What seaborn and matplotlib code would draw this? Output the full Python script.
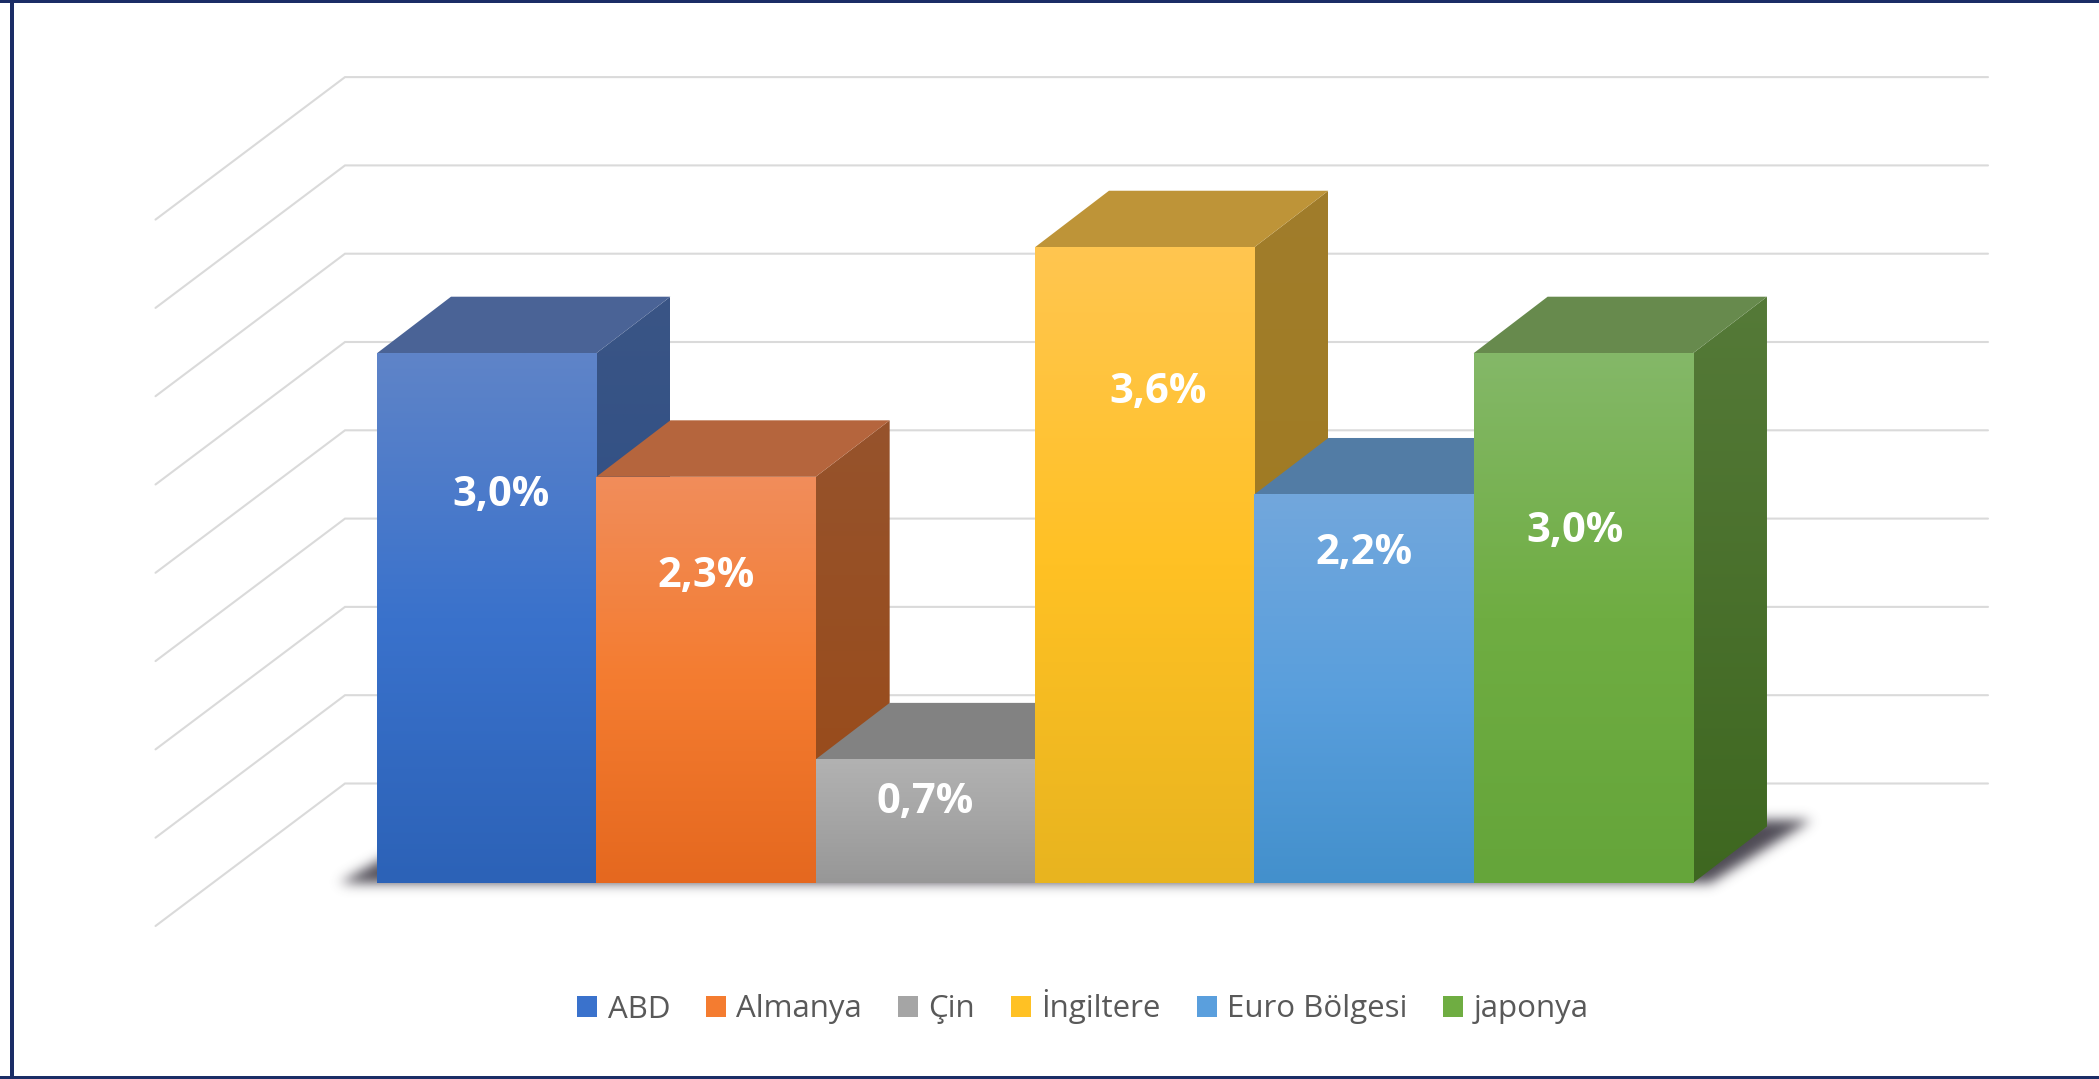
import numpy as np
import pandas as pd
import matplotlib
matplotlib.use("Agg")
import matplotlib.pyplot as plt
from matplotlib.colors import LinearSegmentedColormap, to_rgb
from matplotlib.patches import Polygon, Rectangle
import seaborn as sns

# ---- data ----
countries = ["ABD", "Almanya", "Çin", "İngiltere", "Euro Bölgesi", "japonya"]
growth = [3.0, 2.3, 0.7, 3.6, 2.2, 3.0]
value_labels = ["3,0%", "2,3%", "0,7%", "3,6%", "2,2%", "3,0%"]
grid_levels = [0, 0.5, 1, 1.5, 2, 2.5, 3, 3.5, 4]

# ---- styles ----
front_colors = [
    ["#5F84C8", "#3A72CC", "#2C62B7"],
    ["#F18D5B", "#F47C30", "#E5681F"],
    ["#B2B2B2", "#A5A5A5", "#979797"],
    ["#FFC650", "#FFC124", "#E8B41F"],
    ["#72A7DC", "#5A9FDD", "#4390CC"],
    ["#84B868", "#6FAD42", "#65A53A"],
]
top_colors = ["#4A6396", "#B5653D", "#828282", "#BE9438", "#527CA5", "#678A4D"]
side_colors = [
    ["#3A5585", "#264A85"],
    ["#96532C", "#9A4A17"],
    ["#6E6E6E", "#666666"],
    ["#A17D2B", "#A07A1C"],
    ["#40709A", "#2F6590"],
    ["#557A38", "#3E6720"],
]
legend_colors = ["#3A72CC", "#F47C30", "#A5A5A5", "#FFC124", "#5A9FDD", "#6FAD42"]
label_heights = [2.195, 1.735, 0.457, 2.777, 1.865, 1.99]
label_shifts = [0.067, 0.0, 0.0, 0.06, 0.0, -0.04]

# layout, in data units of the single full-figure axes
W, H = 2099, 1079
bar_px, unit_px = 219.33, 176.6
bar_left_px, base_px = 377, 883
depth_x, depth_y = 74 / bar_px, 56.5 / unit_px
wall_x = (345 - bar_left_px) / bar_px - 0.5
wall_right = (1988 - bar_left_px) / bar_px - 0.5
wall_y = (base_px - 783.5) / unit_px
front_x = (155.5 - bar_left_px) / bar_px - 0.5
front_y = (base_px - 926) / unit_px

sns.set_theme(style="white")
plt.rcParams["font.family"] = ["Open Sans", "DejaVu Sans"]

fig = plt.figure(figsize=(W / 100, H / 100), dpi=100, facecolor="white")
ax = fig.add_axes([0, 0, 1, 1])

df = pd.DataFrame({"country": countries, "growth": growth})
sns.barplot(data=df, x="country", y="growth", hue="country", order=countries,
            hue_order=countries, palette=legend_colors, dodge=False, width=1.0,
            linewidth=0, saturation=1, legend=True, ax=ax)

xlim = (-0.5 - bar_left_px / bar_px, -0.5 + (W - bar_left_px) / bar_px)
ylim = ((base_px - H) / unit_px, base_px / unit_px)

# gridlines on wall and side wall
for lv in grid_levels:
    ax.plot([front_x, wall_x, wall_right],
            [lv + front_y, lv + wall_y, lv + wall_y],
            color="#DADADA", lw=1.5, zorder=1, solid_joinstyle="miter")


# soft floor shadow behind the block: a blurred parallelogram
def blur(a, sigma):
    r = int(3 * sigma)
    k = np.exp(-0.5 * (np.arange(-r, r + 1) / sigma) ** 2)
    k /= k.sum()
    a = np.apply_along_axis(lambda m: np.convolve(m, k, mode="same"), 0, a)
    return np.apply_along_axis(lambda m: np.convolve(m, k, mode="same"), 1, a)


sx = -0.5 + np.arange(-80, 1500) / bar_px
sy = np.arange(-40, 130) / unit_px
gx, gy = np.meshgrid(sx, sy)
s_top = depth_y * 1.10
frac = gy / s_top
s_left = -0.5 - depth_x * 0.50 + frac * depth_x * 1.50
s_right = 5.5 + depth_x * 0.25 + frac * depth_x * 1.35
mask = ((gy >= -0.004) & (gy <= s_top) & (gx >= s_left) & (gx <= s_right)).astype(float)
rgba = np.zeros(mask.shape + (4,))
rgba[..., :3] = to_rgb("#45414C")
rgba[..., 3] = np.clip(blur(mask, 6.0) * 0.95, 0, 1)
ax.imshow(rgba, origin="lower", aspect="auto", zorder=2,
          extent=(sx[0], sx[-1], sy[0], sy[-1]))

# faces of each column, painted from left to right
bars = [c[0] for c in ax.containers]
for i, bar in enumerate(bars):
    x0, x1 = bar.get_x(), bar.get_x() + bar.get_width()
    v = bar.get_height()
    z = 10 + i
    # side face with a vertical gradient
    cmap = LinearSegmentedColormap.from_list("s", side_colors[i])
    side = Polygon([(x1, 0), (x1 + depth_x, depth_y), (x1 + depth_x, v + depth_y), (x1, v)],
                   closed=True, facecolor="none", edgecolor="none", zorder=z)
    ax.add_patch(side)
    im = ax.imshow(np.linspace(0, 1, 256)[:, None], cmap=cmap, aspect="auto",
                   extent=(x1, x1 + depth_x, 0, v + depth_y), origin="upper", zorder=z)
    im.set_clip_path(side)
    # top face
    ax.add_patch(Polygon([(x0, v), (x1, v), (x1 + depth_x, v + depth_y), (x0 + depth_x, v + depth_y)],
                         closed=True, facecolor=top_colors[i], edgecolor="none", zorder=z))
    # front face: the bar itself, filled with a gradient
    bar.set_zorder(z)
    cmap = LinearSegmentedColormap.from_list("f", front_colors[i])
    im = ax.imshow(np.linspace(0, 1, 256)[:, None], cmap=cmap, aspect="auto",
                   extent=(x0, x1, 0, v), origin="upper", zorder=z + 0.5)
    im.set_clip_path(bar)
    ax.text(i + label_shifts[i], label_heights[i], value_labels[i], color="white",
            fontsize=30, fontweight="bold", ha="center", va="center", zorder=30)

ax.set_xlim(*xlim)
ax.set_ylim(*ylim)
ax.axis("off")

sns.move_legend(ax, loc="center", bbox_to_anchor=(1083 / W, 1 - 1007 / H), ncol=6, title="",
                frameon=False, fontsize=22.5, labelcolor="#595959", borderpad=0, borderaxespad=0,
                handlelength=0.64, handleheight=0.64, handletextpad=0.33, columnspacing=1.15)

# navy frame (top, left, bottom)
frame = "#1B2D66"
for (x, y, w, h) in [(0, H - 3, W, 3), (10, 0, 3.5, H), (0, 0, W, 3.5)]:
    fig.add_artist(Rectangle((x / W, y / H), w / W, h / H, transform=fig.transFigure,
                             facecolor=frame, edgecolor="none"))

fig.savefig("out.png", dpi=100, facecolor="white")
